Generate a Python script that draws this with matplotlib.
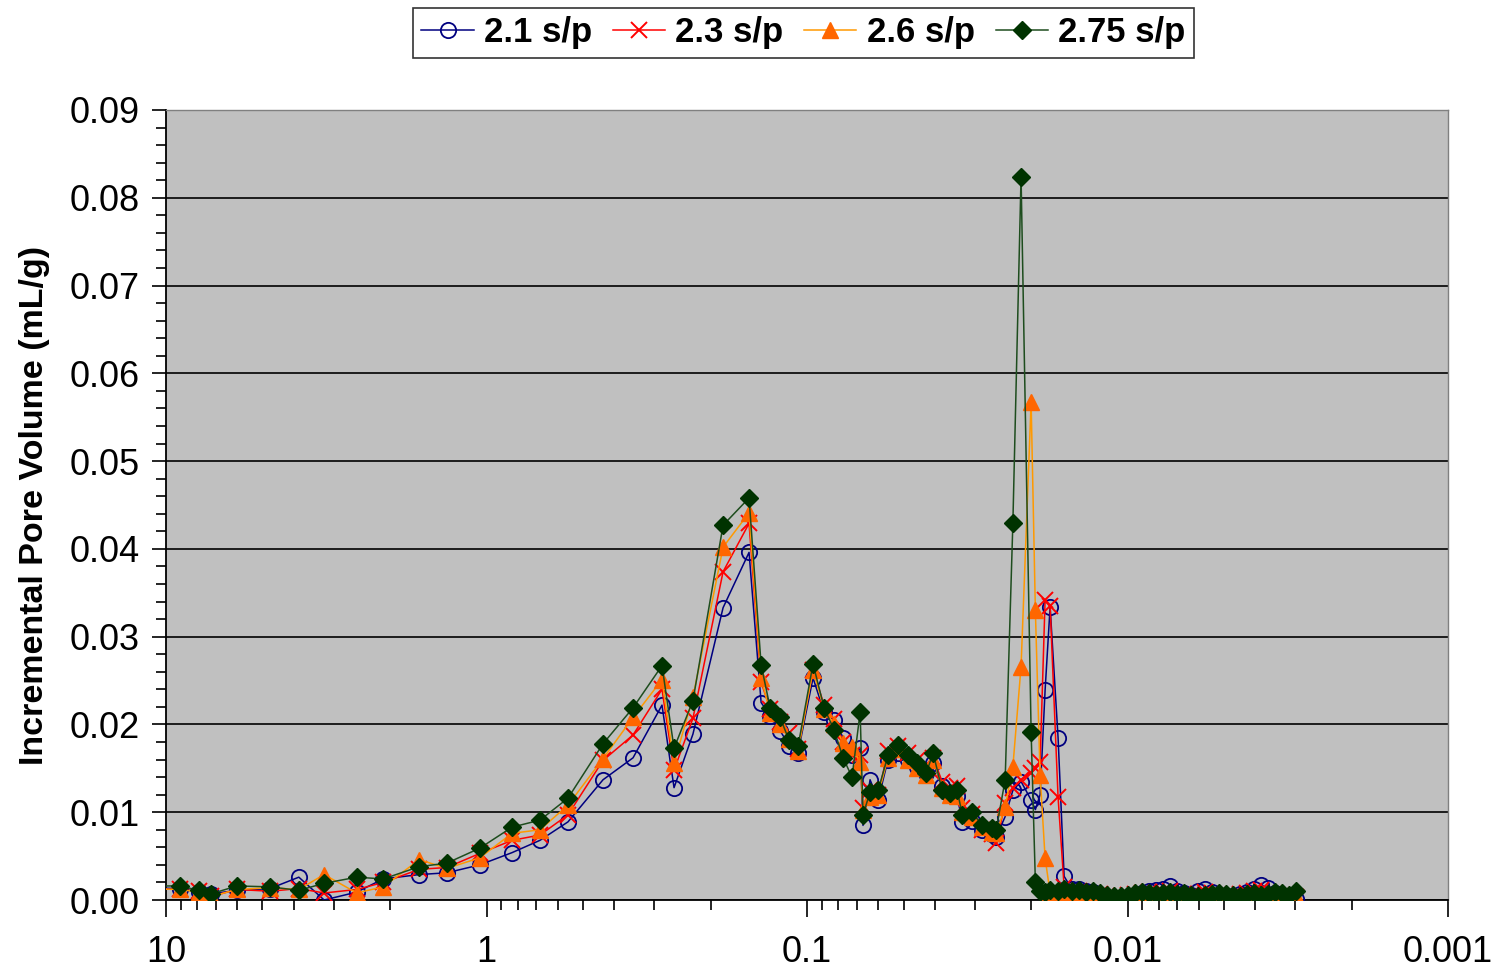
import numpy as np
import matplotlib
matplotlib.use("Agg")
import matplotlib.pyplot as plt
from matplotlib.ticker import FixedLocator, LogLocator, MultipleLocator, NullFormatter

plt.rcParams['font.family'] = ['Liberation Sans', 'DejaVu Sans']

# pore diameter (micrometres)
diam = [11.5, 9.04, 7.89, 7.24, 6.00, 4.74, 3.85, 3.21, 2.54, 2.10, 1.62, 1.33, 1.05,
        0.832, 0.681, 0.557, 0.433, 0.349, 0.2835, 0.260, 0.227, 0.1828, 0.1517,
        0.1391, 0.1304, 0.1214, 0.1138, 0.1067, 0.0958, 0.0885, 0.0824, 0.0772,
        0.0724, 0.0683, 0.0669, 0.0636, 0.0600, 0.0559, 0.0520, 0.0484, 0.0454,
        0.0425, 0.0404, 0.0379, 0.0358, 0.0340, 0.0328, 0.0306, 0.0284, 0.0265,
        0.0257, 0.0241, 0.0228, 0.0215, 0.0200, 0.0194, 0.01875, 0.01809, 0.01745,
        0.01648, 0.01578,
        0.01490, 0.01417, 0.01348, 0.01282, 0.01219, 0.01159, 0.01102, 0.01048,
        0.00997, 0.00948, 0.00902, 0.00857, 0.00815, 0.00775, 0.00737, 0.00701,
        0.00667, 0.00634, 0.00603, 0.00574, 0.00546, 0.00519, 0.00493, 0.00469,
        0.00446, 0.00424, 0.00404, 0.00384, 0.00365, 0.00347, 0.00330, 0.00314,
        0.00299]

sp21 = [.0014, .0013, .0009, .0007, .0011, .0013, .0026, .0000, .0009, .0024, .0029, .0031, .0040,
        .0054, .0068, .0089, .0137, .0162, .0222, .0128, .0189, .0333, .0396,
        .0225, .0210, .0193, .0176, .0168, .0253, .0214, .0205, .0185,
        .0165, .0173, .0085, .0137, .0114, .0160, .0168, .0160, .0152,
        .0145, .0156, .0130, .0120, .0118, .0089, .0090, .0080, .0075,
        .0072, .0095, .0125, .0135, .0114, .0103, .0120, .0239, .0334,
        .0185, .0027,
        .0012, .0013, .0010, .0009, .0006, .0003, .0001, .0000, .0002, .0005, .0008,
        .0010, .0011, .0012, .0016, .0010, .0008, .0006, .0010, .0013, .0009, .0006,
        .0004, .0005, .0007, .0009, .0012, .0017, .0014, .0008, .0005, .0002, .0001]

sp23 = [.0013, .0012, .0010, .0004, .0012, .0010, .0013, .0008, .0012, .0020, .0035, .0037, .0053,
        .0068, .0074, .0097, .0159, .0188, .0240, .0148, .0207, .0374, .0429,
        .0248, .0218, .0203, .0190, .0172, .0262, .0222, .0206, .0180,
        .0165, .0165, .0105, .0125, .0120, .0170, .0175, .0168, .0160,
        .0150, .0162, .0135, .0128, .0130, .0105, .0098, .0080, .0075,
        .0065, .0110, .0128, .0137, .0145, .0150, .0157, .0342, .0335,
        .0117, .0015,
        .0009, .0010, .0009, .0008, .0007, .0005, .0004, .0004, .0006, .0007, .0008,
        .0009, .0008, .0009, .0010, .0008, .0007, .0006, .0007, .0009, .0008, .0007,
        .0006, .0006, .0007, .0008, .0010, .0011, .0009, .0008, .0006, .0004, .0003]

sp26 = [.0013, .0012, .0009, .0004, .0012, .0014, .0012, .0029, .0008, .0015, .0046, .0036, .0048,
        .0076, .0080, .0108, .0161, .0208, .0251, .0156, .0231, .0402, .0441,
        .0253, .0213, .0200, .0183, .0170, .0262, .0218, .0200, .0179,
        .0174, .0157, .0103, .0117, .0120, .0162, .0172, .0160, .0150,
        .0142, .0160, .0128, .0120, .0118, .0100, .0095, .0083, .0078,
        .0076, .0106, .0152, .0266, .0567, .0330, .0142, .0048, .0008,
        .0007, .0006,
        .0005, .0004, .0004, .0003, .0002, .0001, .0001, .0002, .0003, .0004, .0003,
        .0004, .0005, .0004, .0003, .0002, .0003, .0004, .0003, .0002, .0003, .0004,
        .0005, .0003, .0002, .0003, .0004, .0005, .0004, .0003, .0002, .0003, .0004]

sp275 = [.0016, .0016, .0011, .0007, .0016, .0015, .0011, .0019, .0026, .0024, .0038, .0042, .0059,
         .0083, .0091, .0116, .0178, .0219, .0267, .0173, .0227, .0427, .0458,
         .0268, .0219, .0208, .0182, .0175, .0269, .0219, .0194, .0162,
         .0140, .0214, .0097, .0123, .0125, .0165, .0177, .0165, .0156,
         .0145, .0167, .0125, .0122, .0125, .0097, .0100, .0085, .0082,
         .0080, .0137, .0430, .0824, .0191, .0021, .0010, .0009, .0011,
         .0010, .0012,
         .0010, .0011, .0009, .0010, .0008, .0006, .0005, .0004, .0006, .0008, .0009,
         .0008, .0007, .0008, .0009, .0007, .0008, .0006, .0005, .0006, .0007, .0008,
         .0007, .0006, .0005, .0007, .0008, .0006, .0007, .0009, .0008, .0006, .0010]

labels = ["2.1 s/p", "2.3 s/p", "2.6 s/p", "2.75 s/p"]
xticks = [10, 1, 0.1, 0.01, 0.001]
xtick_labels = ["10", "1", "0.1", "0.01", "0.001"]

fig = plt.figure(figsize=(14.99, 9.69), dpi=100)
ax = fig.add_axes([0.1107, 0.0712, 0.8554, 0.8153])
ax.set_facecolor("#C0C0C0")

ax.plot(diam, sp21, color="#000080", lw=1.1, marker="o", ms=11, mfc="none",
        mec="#000080", mew=1.3, label=labels[0], zorder=3)
ax.plot(diam, sp23, color="#FF0000", lw=1.1, marker="x", ms=11, mew=1.4,
        label=labels[1], zorder=4)
ax.plot(diam, sp26, color="#FF9900", lw=1.1, marker="^", ms=12, mfc="#FF6600",
        mec="#FF6600", label=labels[2], zorder=5)
ax.plot(diam, sp275, color="#1E4D1E", lw=1.1, marker="D", ms=9.5, mfc="#003300",
        mec="#003300", label=labels[3], zorder=6)

ax.set_xscale("log")
ax.set_xlim(10, 0.001)
ax.set_ylim(0, 0.09)

ax.xaxis.set_major_locator(FixedLocator(xticks))
ax.set_xticklabels(xtick_labels)
ax.xaxis.set_minor_locator(LogLocator(base=10, subs=np.arange(2, 10)))
ax.xaxis.set_minor_formatter(NullFormatter())
ax.yaxis.set_major_locator(MultipleLocator(0.01))
ax.yaxis.set_minor_locator(MultipleLocator(0.002))
ax.yaxis.set_major_formatter(lambda v, p: f"{v:.2f}")

ax.tick_params(axis="both", which="major", labelsize=26, direction="out", width=1.2, color="black")
ax.tick_params(axis="x", which="major", length=12, pad=13)
ax.tick_params(axis="y", which="major", length=10, pad=9)
ax.tick_params(axis="x", which="minor", length=7, width=1.2)
ax.tick_params(axis="y", which="minor", length=7, width=1.2)

ax.grid(axis="y", which="major", color="black", lw=1.2)
ax.set_axisbelow(True)
for s in ["top", "right"]:
    ax.spines[s].set_color("#808080")
    ax.spines[s].set_linewidth(1)
for s in ["left", "bottom"]:
    ax.spines[s].set_linewidth(1.3)

ax.set_ylabel("Incremental Pore Volume (mL/g)", fontsize=24.5, fontweight="bold", labelpad=14)

leg = fig.legend(loc="center", bbox_to_anchor=(0.536, 0.966), ncol=4,
                 prop={"weight": "bold", "size": 25}, frameon=True, fancybox=False,
                 edgecolor="black", handlelength=1.5, handletextpad=0.3,
                 columnspacing=0.6, borderpad=0.25, borderaxespad=0)
leg.get_frame().set_linewidth(1.2)

fig.savefig("out.png", dpi=100)
